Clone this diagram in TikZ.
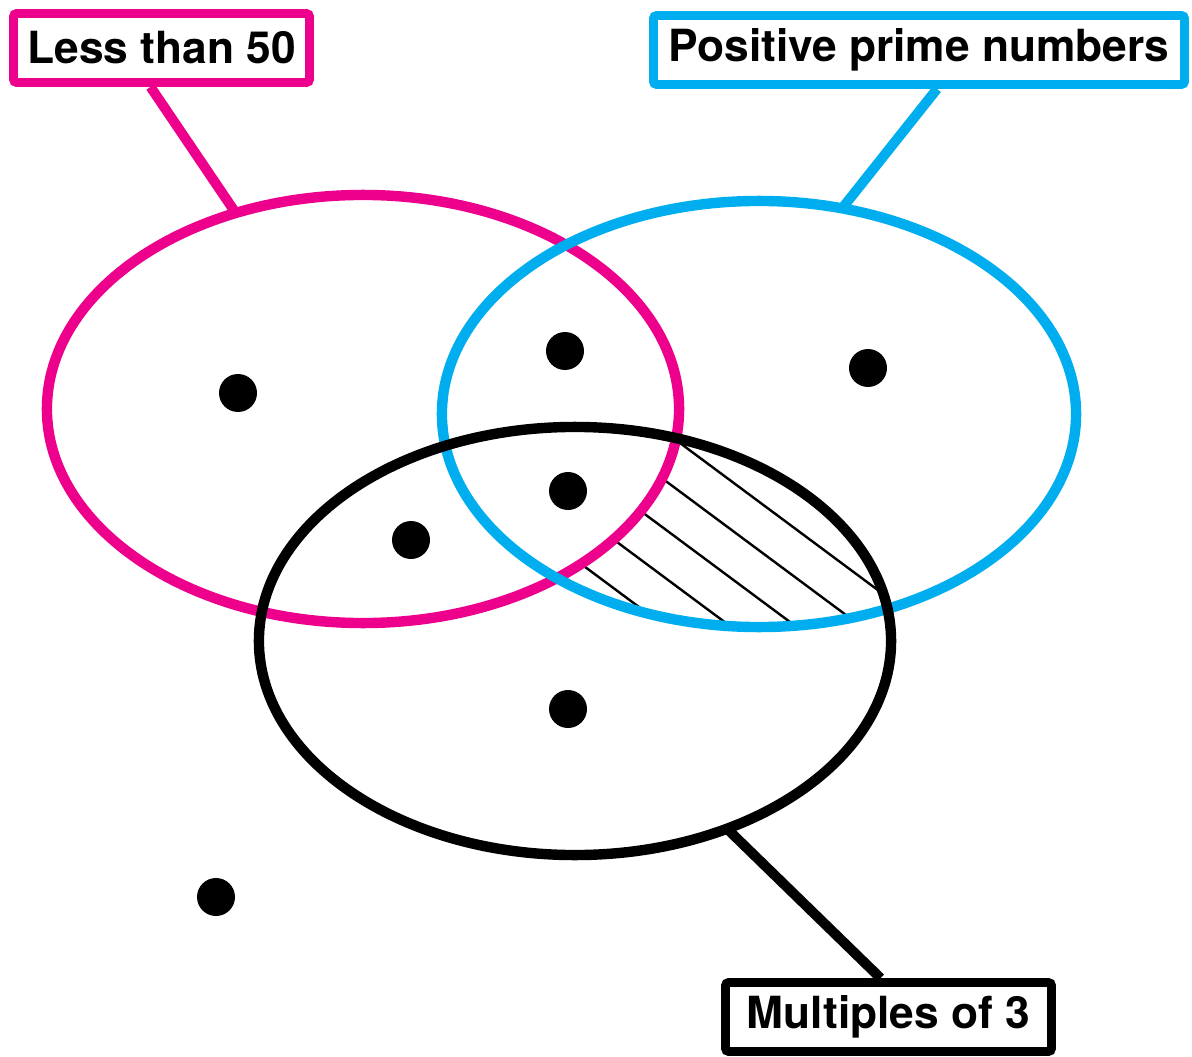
\documentclass[tikz,border=0pt]{standalone}
\usepackage{fontspec}
\setmainfont{TeX Gyre Heros}
\usetikzlibrary{shapes.geometric,calc}
\definecolor{setpink}{HTML}{EC008C}
\definecolor{setblue}{HTML}{00AEEF}
\begin{document}
\begin{tikzpicture}[x=0.025cm, y=-0.025cm,
    set/.style={ellipse, draw, line width=0.26cm, inner sep=0pt, outer sep=0pt, minimum width=15.8cm, minimum height=10.7cm},
    tag/.style={draw, line width=0.22cm, rounded corners=0.08cm, fill=white, text=black, inner sep=0pt, minimum height=1.725cm, font=\fontsize{31.5}{37}\selectfont\bfseries},
    link/.style={line width=0.25cm}]
    \useasboundingbox (0,0) rectangle (1192,1057);
    % 1. 阴影区域 (底层)
    \begin{scope}
        \clip (575,641) ellipse (316 and 214);
        \clip (759,414) ellipse (317 and 213);
        \foreach \k in {0,...,4}
            \draw[line width=0.06cm] ({684-23.3*\k-401},{446+31.3*\k-298}) -- ++(802,596);
        \fill[white] (363,409) ellipse (316 and 214);
    \end{scope}

    % 2. 三个集合 (粉 -> 蓝 -> 黑)
    \node[set, draw=setpink] (less) at (363,409) {};
    \node[set, draw=setblue, minimum width=15.85cm, minimum height=10.65cm] (prime) at (759,414) {};
    \node[set, draw=black] (three) at (575,641) {};

    % 3. 标签与连线
    \node[tag, draw=setpink, minimum width=7.4cm] (lesstag) at (161.5,48) {Less than 50};
    \node[tag, draw=setblue, minimum width=13.275cm] (primetag) at (919,50) {Positive prime numbers};
    \node[tag, draw=black, minimum width=8.15cm] (threetag) at (888.5,1017) {Multiples of 3};
    \coordinate (lessfoot) at ($(lesstag.south)+(-11,0)$);
    \coordinate (primefoot) at ($(primetag.south)+(18,0)$);
    \coordinate (threefoot) at ($(threetag.north)+(-8,0)$);
    \draw[link, setpink] (lessfoot) -- (less.123.6);
    \draw[link, setblue] (primefoot) -- (prime.68.8);
    \draw[link, black] (threefoot) -- (three.-51.4);

    % 4. 元素点
    \foreach \p in {(238,393), (565,351), (868,368), (568,491), (411,540), (568,709), (216,897)}
        \fill \p circle (19);
\end{tikzpicture}
\end{document}
